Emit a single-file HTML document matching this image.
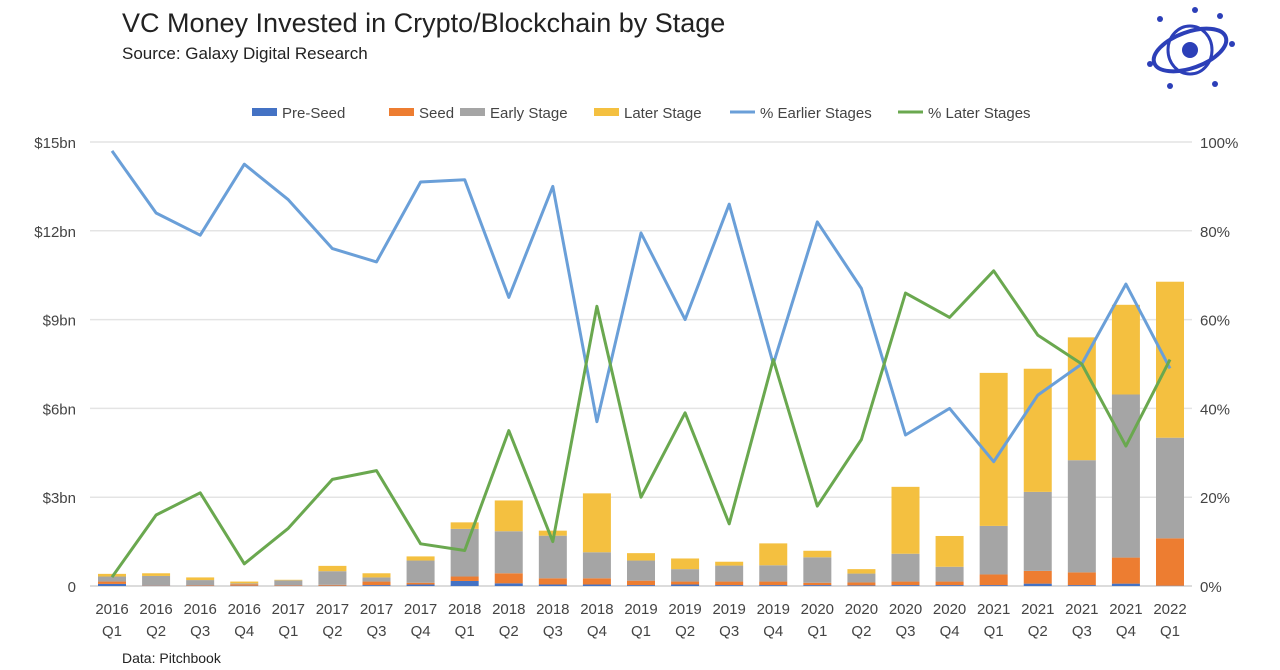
<!DOCTYPE html>
<html><head><meta charset="utf-8">
<style>
body{margin:0;background:#fff;font-family:"Liberation Sans",sans-serif;}
#wrap{position:relative;width:1280px;height:670px;overflow:hidden;background:#fff;}
.t{position:absolute;color:#222;}
</style></head>
<body>
<div id="wrap">
<div class="t" style="left:122px;top:8px;font-size:27px;">VC Money Invested in Crypto/Blockchain by Stage</div>
<div class="t" style="left:122px;top:44px;font-size:17px;">Source: Galaxy Digital Research</div>
<div class="t" style="left:122px;top:650px;font-size:14px;">Data: Pitchbook</div>
<svg style="position:absolute;left:1140px;top:4px" width="100" height="90" viewBox="0 0 100 90">
<ellipse cx="50" cy="46" rx="38" ry="18" fill="none" stroke="#2c3fb8" stroke-width="4" transform="rotate(-20 50 46)"/>
<ellipse cx="50" cy="46" rx="22" ry="24" fill="none" stroke="#2c3fb8" stroke-width="3"/>
<circle cx="50" cy="46" r="8" fill="#2c3fb8"/>
<g fill="#2c3fb8"><circle cx="20" cy="15" r="3"/><circle cx="80" cy="12" r="3"/><circle cx="92" cy="40" r="3"/><circle cx="10" cy="60" r="3"/><circle cx="75" cy="80" r="3"/><circle cx="30" cy="82" r="3"/><circle cx="55" cy="6" r="3"/></g>
</svg>
<svg id="chart" width="1280" height="670" style="position:absolute;left:0;top:0"></svg>
</div>
<script>
const categories=["2016|Q1","2016|Q2","2016|Q3","2016|Q4","2017|Q1","2017|Q2","2017|Q3","2017|Q4","2018|Q1","2018|Q2","2018|Q3","2018|Q4","2019|Q1","2019|Q2","2019|Q3","2019|Q4","2020|Q1","2020|Q2","2020|Q3","2020|Q4","2021|Q1","2021|Q2","2021|Q3","2021|Q4","2022|Q1"];
const preSeed=[0.07,0.01,0.01,0.01,0.01,0.01,0.03,0.05,0.17,0.09,0.05,0.05,0.03,0.05,0.03,0.03,0.03,0.02,0.03,0.03,0.03,0.08,0.03,0.08,0.01];
const seed=[0.08,0.01,0.02,0.05,0.02,0.03,0.12,0.06,0.15,0.34,0.21,0.21,0.15,0.10,0.12,0.12,0.08,0.10,0.12,0.12,0.36,0.43,0.43,0.88,1.60];
const early=[0.17,0.32,0.17,0.03,0.16,0.46,0.14,0.75,1.61,1.42,1.44,0.88,0.68,0.42,0.54,0.55,0.86,0.30,0.94,0.50,1.64,2.67,3.79,5.51,3.40];
const later=[0.09,0.09,0.09,0.06,0.02,0.18,0.14,0.14,0.22,1.04,0.17,1.99,0.25,0.36,0.13,0.74,0.22,0.15,2.26,1.04,5.17,4.16,4.15,3.03,5.27];
const pctEarlier=[98,84,79,95,87,76,73,91,91.5,65,90,37,79.5,60,86,50,82,67,34,40,28,43,50,68,49];
const pctLater=[2,16,21,5,13,24,26,9.5,8,35,10,63,20,39,14,51,18,33,66,60.5,71,56.5,50,31.5,51];
const leftTicks=["0","$3bn","$6bn","$9bn","$12bn","$15bn"];
const leftTickVals=[0,3,6,9,12,15];
const rightTicks=["0%","20%","40%","60%","80%","100%"];
const rightTickVals=[0,20,40,60,80,100];

const NS="http://www.w3.org/2000/svg";
const svg=document.getElementById('chart');
const X0=90,X1=1192,Y0=586,Y1=142;
const step=(1170-112)/24;
function xPos(i){return 112+i*step;}
function yL(v){return Y0-(v/15)*(Y0-Y1);}
function yR(p){return Y0-(p/100)*(Y0-Y1);}
function mk(tag,attrs){const e=document.createElementNS(NS,tag);for(const k in attrs)e.setAttribute(k,attrs[k]);svg.appendChild(e);return e;}

leftTickVals.forEach((v,i)=>{
  const g=mk('line',{x1:X0,x2:X1,y1:yL(v),y2:yL(v),stroke:i===0?'#d0d0d0':'#e4e4e4','stroke-width':1.5});
  
  
  const t=mk('text',{x:76,y:yL(v)+6,'text-anchor':'end','font-size':15,fill:'#444','font-family':'Liberation Sans, sans-serif'});
  t.textContent=leftTicks[i];
  
  
});
rightTickVals.forEach((v,i)=>{
  const t=mk('text',{x:1200,y:yR(v)+6,'text-anchor':'start','font-size':15,fill:'#444','font-family':'Liberation Sans, sans-serif'});
  t.textContent=rightTicks[i];
  
  
});

const series=[[preSeed,'#4472c4','pre-seed'],[seed,'#ed7d31','seed'],[early,'#a5a5a5','early-stage'],[later,'#f4c040','later-stage']];
const bw=28;
categories.forEach((c,i)=>{
  let cum=0;
  series.forEach(s=>{
    const v=s[0][i];
    const r=mk('rect',{x:xPos(i)-bw/2,y:yL(cum+v),width:bw,height:yL(cum)-yL(cum+v),fill:s[1]});
    
    
    cum+=v;
  });
  const parts=c.split('|');
  const t1=mk('text',{x:xPos(i),y:614,'text-anchor':'middle','font-size':15,fill:'#444','font-family':'Liberation Sans, sans-serif'});
  t1.textContent=parts[0];
  
  
  const t2=mk('text',{x:xPos(i),y:636,'text-anchor':'middle','font-size':15,fill:'#444','font-family':'Liberation Sans, sans-serif'});
  t2.textContent=parts[1];
  
  
});

function line(arr,color,name){
  const d=arr.map((p,i)=>(i?'L':'M')+xPos(i).toFixed(1)+' '+yR(p).toFixed(1)).join(' ');
  const l=mk('path',{d:d,fill:'none',stroke:color,'stroke-width':3,'stroke-linejoin':'round'});
  
  
}
line(pctEarlier,'#6a9fd8','line-pct-earlier-stages');
line(pctLater,'#6aa84f','line-pct-later-stages');

const legend=[['Pre-Seed','#4472c4','rect',252],['Seed','#ed7d31','rect',389],['Early Stage','#a5a5a5','rect',460],['Later Stage','#f4c040','rect',594],['% Earlier Stages','#6a9fd8','line',730],['% Later Stages','#6aa84f','line',898]];
legend.forEach(l=>{
  let m;
  if(l[2]==='rect') m=mk('rect',{x:l[3],y:108,width:25,height:8,fill:l[1]});
  else m=mk('line',{x1:l[3],x2:l[3]+25,y1:112,y2:112,stroke:l[1],'stroke-width':3});
  
  
  const t=mk('text',{x:l[3]+30,y:118,'font-size':15,fill:'#444','font-family':'Liberation Sans, sans-serif'});
  t.textContent=l[0];
  
  
});
</script>
</body></html>
